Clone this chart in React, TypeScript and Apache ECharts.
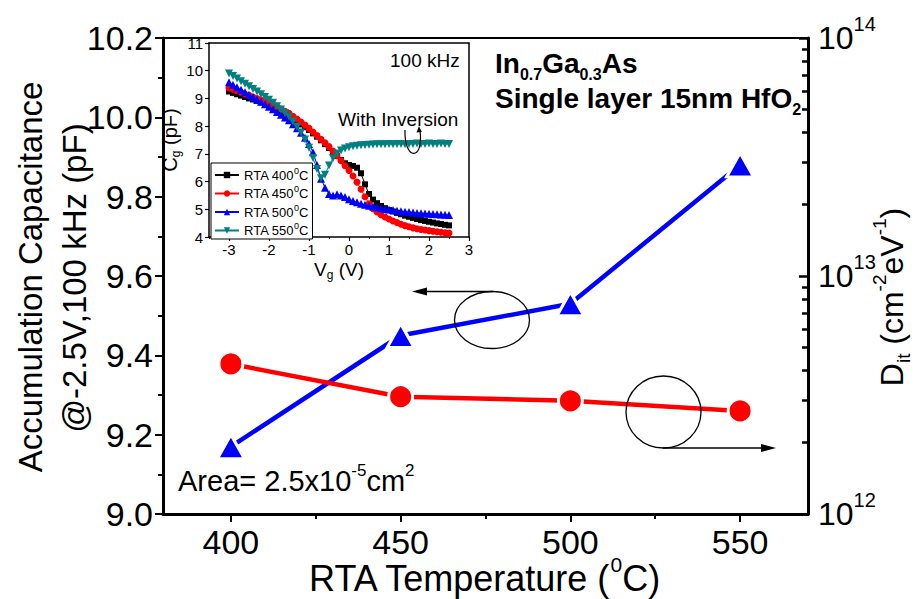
import React, { useEffect, useRef } from "react";
import * as echarts from "echarts";

const FONT = '"Liberation Sans", Arial, Helvetica, sans-serif';

// ---------- main chart data ----------
const rtaTemps = [400, 450, 500, 550];
const accCapacitance = [9.17, 9.45, 9.53, 9.88]; // pF, left axis
const ditValues = [4.27e12, 3.11e12, 2.99e12, 2.71e12]; // cm^-2 eV^-1, right (log) axis
const tempTickValues = [400, 450, 500, 550];
const tempMinorTickValues = [425, 475, 525];
const ditDecades = [12, 13, 14];
const ditMinorMantissas = [2, 3, 4, 5, 6, 7, 8, 9];

// ---------- inset data (C-V curves, 100 kHz) ----------
const vg = [
  -3.0, -2.9, -2.8, -2.7, -2.6, -2.5, -2.4, -2.3, -2.2, -2.1,
  -2.0, -1.9, -1.8, -1.7, -1.6, -1.5, -1.4, -1.3, -1.2, -1.1,
  -1.0, -0.9, -0.8, -0.7, -0.6, -0.5, -0.4, -0.3, -0.2, -0.1,
  0.0, 0.1, 0.2, 0.3, 0.4, 0.5, 0.6, 0.7, 0.8, 0.9,
  1.0, 1.1, 1.2, 1.3, 1.4, 1.5, 1.6, 1.7, 1.8, 1.9,
  2.0, 2.1, 2.2, 2.3, 2.4, 2.5,
];
const cg400 = [
  9.25, 9.2, 9.15, 9.1, 9.05, 9.0, 8.96, 8.91, 8.86, 8.8,
  8.74, 8.67, 8.6, 8.52, 8.44, 8.35, 8.26, 8.16, 8.06, 7.96,
  7.86, 7.74, 7.62, 7.49, 7.35, 7.21, 7.06, 6.92, 6.78, 6.66,
  6.6, 6.56, 6.5, 6.3, 5.9, 5.55, 5.35, 5.22, 5.12, 5.04,
  4.97, 4.92, 4.87, 4.82, 4.77, 4.73, 4.69, 4.65, 4.61, 4.58,
  4.55, 4.52, 4.49, 4.47, 4.44, 4.42,
];
const cg450 = [
  9.38, 9.33, 9.28, 9.22, 9.16, 9.11, 9.05, 9.0, 8.94, 8.88,
  8.83, 8.76, 8.69, 8.62, 8.54, 8.46, 8.36, 8.26, 8.15, 8.04,
  7.92, 7.79, 7.66, 7.53, 7.4, 7.26, 7.1, 6.93, 6.75, 6.57,
  6.4, 6.2, 5.98, 5.72, 5.45, 5.2, 5.02, 4.9, 4.8, 4.72,
  4.65, 4.58, 4.52, 4.46, 4.41, 4.37, 4.33, 4.3, 4.27, 4.25,
  4.23, 4.21, 4.19, 4.17, 4.15, 4.14,
];
const cg500 = [
  9.58, 9.49, 9.4, 9.31, 9.22, 9.13, 9.05, 8.96, 8.88, 8.79,
  8.7, 8.61, 8.51, 8.41, 8.31, 8.21, 8.07, 7.92, 7.76, 7.58,
  7.36, 7.06, 6.6, 6.1, 5.78, 5.55, 5.5, 5.54, 5.5, 5.44,
  5.36, 5.3, 5.25, 5.2, 5.16, 5.13, 5.1, 5.07, 5.04, 5.01,
  4.99, 4.97, 4.95, 4.93, 4.91, 4.9, 4.88, 4.87, 4.86, 4.85,
  4.84, 4.83, 4.82, 4.81, 4.8, 4.79,
];
const cg550 = [
  9.9, 9.81, 9.72, 9.62, 9.53, 9.44, 9.34, 9.25, 9.15, 9.05,
  8.95, 8.84, 8.72, 8.6, 8.47, 8.34, 8.17, 7.98, 7.77, 7.52,
  7.22, 6.85, 6.45, 6.12, 6.25, 6.58, 6.84, 7.01, 7.12, 7.19,
  7.24, 7.27, 7.29, 7.31, 7.32, 7.33, 7.34, 7.35, 7.35, 7.35,
  7.36, 7.35, 7.36, 7.36, 7.35, 7.36, 7.36, 7.37, 7.36, 7.36,
  7.37, 7.36, 7.36, 7.37, 7.36, 7.36,
];
const insetNames = ["RTA 400", "RTA 450", "RTA 500", "RTA 550"];
const insetColors = ["#000000", "#ff0000", "#0000ff", "#008080"];
const vgTickValues = [-3, -2, -1, 0, 1, 2, 3];
const vgMinorTickValues = [-3.5, -2.5, -1.5, -0.5, 0.5, 1.5, 2.5];

function buildOption(): any {
  const black = "#000";
  const lineBase = (w: number) => ({ lineStyle: { color: black, width: w } });
  const ditMinorTicks: number[] = [];
  ditDecades.slice(0, -1).forEach((d) =>
    ditMinorMantissas.forEach((m) => ditMinorTicks.push(d + Math.log10(m)))
  );
  const insetData = [cg400, cg450, cg500, cg550];
  const insetSymbols = ["rect", "circle", "triangle", "triangle"];
  const insetSizes = [6, 7, 8, 8];

  const rt = (size: number, extra: any = {}) => ({
    fontSize: size,
    fontFamily: FONT,
    fill: black,
    color: black,
    ...extra,
  });

  return {
    animation: false,
    backgroundColor: "#fff",
    grid: [
      { left: 163, top: 38, width: 645, height: 476 },
      {
        left: 209,
        top: 43,
        width: 260,
        height: 194,
        show: true,
        backgroundColor: "#fff",
        borderWidth: 0,
      },
    ],
    xAxis: [
      {
        gridIndex: 0,
        type: "value",
        min: 380,
        max: 570,
        position: "bottom",
        axisLine: { onZero: false, ...lineBase(3) },
        axisTick: { customValues: tempTickValues, length: 8, ...lineBase(2) },
        axisLabel: {
          customValues: tempTickValues,
          fontSize: 34,
          fontFamily: FONT,
          color: black,
          margin: 11,
        },
        splitLine: { show: false },
      },
      {
        gridIndex: 0,
        type: "value",
        min: 380,
        max: 570,
        position: "bottom",
        axisLine: { show: false, onZero: false },
        axisTick: { customValues: tempMinorTickValues, length: 5, ...lineBase(2) },
        axisLabel: { show: false },
        splitLine: { show: false },
      },
      {
        gridIndex: 0,
        type: "value",
        min: 380,
        max: 570,
        position: "top",
        axisLine: { onZero: false, ...lineBase(2) },
        axisTick: { show: false },
        axisLabel: { show: false },
        splitLine: { show: false },
      },
      {
        gridIndex: 1,
        type: "value",
        min: -3.5,
        max: 3,
        position: "bottom",
        axisLine: { onZero: false, ...lineBase(1.5) },
        axisTick: { customValues: vgTickValues, length: 4, ...lineBase(1.2) },
        axisLabel: {
          customValues: vgTickValues,
          fontSize: 15,
          fontFamily: FONT,
          color: black,
          margin: 5,
        },
        splitLine: { show: false },
        name: "{a|V}{sub|g}{a| (V)}",
        nameLocation: "middle",
        nameGap: 20,
        nameTextStyle: {
          fontSize: 19,
          fontFamily: FONT,
          color: black,
          rich: {
            a: rt(19),
            sub: rt(12, { padding: [12, 0, 0, 0] }),
          },
        },
      },
      {
        gridIndex: 1,
        type: "value",
        min: -3.5,
        max: 3,
        position: "bottom",
        axisLine: { show: false, onZero: false },
        axisTick: { customValues: vgMinorTickValues, length: 2, ...lineBase(1) },
        axisLabel: { show: false },
        splitLine: { show: false },
      },
      {
        gridIndex: 1,
        type: "value",
        min: -3.5,
        max: 3,
        position: "top",
        axisLine: { onZero: false, ...lineBase(1.5) },
        axisTick: { show: false },
        axisLabel: { show: false },
        splitLine: { show: false },
      },
    ],
    yAxis: [
      {
        gridIndex: 0,
        type: "value",
        min: 9.0,
        max: 10.2,
        interval: 0.2,
        position: "left",
        axisLine: { onZero: false, ...lineBase(3) },
        axisTick: { length: 8, ...lineBase(2) },
        minorTick: { show: true, splitNumber: 2, length: 5, ...lineBase(2) },
        axisLabel: {
          fontSize: 34,
          fontFamily: FONT,
          color: black,
          margin: 10,
          formatter: (v: number) => v.toFixed(1),
        },
        splitLine: { show: false },
      },
      {
        gridIndex: 0,
        type: "value",
        min: 12,
        max: 14,
        interval: 1,
        position: "right",
        axisLine: { onZero: false, ...lineBase(3) },
        axisTick: { inside: true, length: 9, ...lineBase(2.5) },
        axisLabel: {
          margin: 10,
          formatter: (v: number) => `{b|10}{s|${Math.round(v)}}`,
          rich: {
            b: rt(32),
            s: rt(20, { padding: [0, 0, 28, 0] }),
          },
        },
        splitLine: { show: false },
      },
      {
        gridIndex: 0,
        type: "value",
        min: 12,
        max: 14,
        position: "right",
        axisLine: { show: false, onZero: false },
        axisTick: { inside: true, customValues: ditMinorTicks, length: 6, ...lineBase(2.5) },
        axisLabel: { show: false },
        splitLine: { show: false },
      },
      {
        gridIndex: 1,
        type: "value",
        min: 4,
        max: 11,
        interval: 1,
        position: "left",
        axisLine: { onZero: false, ...lineBase(1.5) },
        axisTick: { length: 4, ...lineBase(1.2) },
        axisLabel: { fontSize: 15, fontFamily: FONT, color: black, margin: 6 },
        splitLine: { show: false },
        name: "{a|C}{sub|g}{a| (pF)}",
        nameLocation: "middle",
        nameGap: 22,
        nameTextStyle: {
          fontSize: 20,
          fontFamily: FONT,
          color: black,
          rich: {
            a: rt(20),
            sub: rt(12, { padding: [12, 0, 0, 0] }),
          },
        },
      },
      {
        gridIndex: 1,
        type: "value",
        min: 4,
        max: 11,
        position: "right",
        axisLine: { onZero: false, ...lineBase(1.5) },
        axisTick: { show: false },
        axisLabel: { show: false },
        splitLine: { show: false },
      },
    ],
    legend: {
      data: insetNames,
      orient: "vertical",
      left: 211,
      top: 163,
      itemWidth: 24,
      itemHeight: 8,
      itemGap: 3,
      padding: [3, 4, 2, 3],
      borderColor: black,
      borderWidth: 1,
      backgroundColor: "#fff",
      formatter: (n: string) => `{a|${n}}{s|0}{a|C}`,
      textStyle: {
        fontSize: 13,
        fontFamily: FONT,
        color: black,
        rich: {
          a: rt(13),
          s: rt(9, { padding: [0, 0, 9, 0] }),
        },
      },
    },
    series: [
      {
        type: "line",
        name: "Accumulation capacitance",
        xAxisIndex: 0,
        yAxisIndex: 0,
        data: rtaTemps.map((t, i) => [t, accCapacitance[i]]),
        symbol: "triangle",
        symbolSize: [27, 24],
        lineStyle: { color: "#0000ff", width: 4.5 },
        itemStyle: { color: "#0000ff", borderColor: "#fff", borderWidth: 3 },
        z: 3,
      },
      {
        type: "line",
        name: "Dit",
        xAxisIndex: 0,
        yAxisIndex: 1,
        data: rtaTemps.map((t, i) => [t, Math.log10(ditValues[i])]),
        symbol: "circle",
        symbolSize: 24,
        lineStyle: { color: "#ff0000", width: 4.5 },
        itemStyle: { color: "#ff0000", borderColor: "#fff", borderWidth: 3 },
        z: 3,
      },
      ...insetNames.map((n, k) => ({
        type: "line",
        name: n,
        xAxisIndex: 3,
        yAxisIndex: 3,
        data: vg.map((v, i) => [v, insetData[k][i]]),
        symbol: insetSymbols[k],
        symbolSize: insetSizes[k],
        symbolRotate: k === 3 ? 180 : 0,
        lineStyle: { color: insetColors[k], width: 1 },
        itemStyle: { color: insetColors[k] },
        z: 4,
      })),
    ],
    graphic: [
      // axis titles
      {
        type: "text",
        x: 30,
        y: 277,
        rotation: Math.PI / 2,
        style: { ...rt(33), text: "Accumulation Capacitance", align: "center", verticalAlign: "middle" },
      },
      {
        type: "text",
        x: 74,
        y: 278,
        rotation: Math.PI / 2,
        style: { ...rt(33), text: "@-2.5V,100 kHz (pF)", align: "center", verticalAlign: "middle" },
      },
      {
        type: "text",
        x: 892,
        y: 297,
        rotation: Math.PI / 2,
        style: {
          ...rt(32),
          text: "{a|D}{sub|it}{a| (cm}{sup|-2}{a|eV}{sup|-1}{a|)}",
          align: "center",
          verticalAlign: "middle",
          rich: {
            a: rt(32),
            sub: rt(19, { padding: [22, 0, 0, 0] }),
            sup: rt(19, { padding: [0, 0, 26, 0] }),
          },
        },
      },
      {
        type: "text",
        x: 484,
        y: 578,
        style: {
          ...rt(36),
          text: "{a|RTA Temperature (}{sup|0}{a|C)}",
          align: "center",
          verticalAlign: "middle",
          rich: { a: rt(36), sup: rt(21, { padding: [0, 0, 28, 0] }) },
        },
      },
      // annotations
      {
        type: "text",
        x: 178,
        y: 481,
        style: {
          ...rt(29),
          text: "{a|Area= 2.5x10}{sup|-5}{a|cm}{sup|2}",
          align: "left",
          verticalAlign: "middle",
          rich: { a: rt(29), sup: rt(17, { padding: [0, 0, 22, 0] }) },
        },
      },
      {
        type: "text",
        x: 495,
        y: 63,
        style: {
          ...rt(28, { fontWeight: "bold" }),
          text: "{b|In}{sub|0.7}{b|Ga}{sub|0.3}{b|As}",
          align: "left",
          verticalAlign: "middle",
          rich: {
            b: rt(28, { fontWeight: "bold" }),
            sub: rt(16, { fontWeight: "bold", padding: [22, 0, 0, 0] }),
          },
        },
      },
      {
        type: "text",
        x: 495,
        y: 98,
        style: {
          ...rt(28, { fontWeight: "bold" }),
          text: "{b|Single layer 15nm HfO}{sub|2}",
          align: "left",
          verticalAlign: "middle",
          rich: {
            b: rt(28, { fontWeight: "bold" }),
            sub: rt(16, { fontWeight: "bold", padding: [22, 0, 0, 0] }),
          },
        },
      },
      {
        type: "text",
        x: 390,
        y: 60,
        z: 10,
        style: { ...rt(19), text: "100 kHz", align: "left", verticalAlign: "middle" },
      },
      {
        type: "text",
        x: 338,
        y: 119,
        z: 10,
        style: { ...rt(19), text: "With Inversion", align: "left", verticalAlign: "middle" },
      },
      {
        type: "bezierCurve",
        z: 10,
        shape: { x1: 405, y1: 130, cpx1: 404, cpy1: 161, cpx2: 424, cpy2: 161, x2: 420, y2: 131 },
        style: { stroke: black, lineWidth: 1.2, fill: null },
      },
      {
        type: "polygon",
        z: 10,
        shape: { points: [[419, 126], [416.5, 132.5], [421.8, 132]] },
        style: { fill: black },
      },
      {
        type: "ellipse",
        z: 10,
        shape: { cx: 492, cy: 320, rx: 37.5, ry: 28.5 },
        style: { stroke: black, lineWidth: 1.3, fill: null },
      },
      {
        type: "line",
        z: 10,
        shape: { x1: 493, y1: 291.5, x2: 420, y2: 291.5 },
        style: { stroke: black, lineWidth: 1.3 },
      },
      {
        type: "polygon",
        z: 10,
        shape: { points: [[412, 291.5], [427, 287.5], [427, 295.5]] },
        style: { fill: black },
      },
      {
        type: "ellipse",
        z: 10,
        shape: { cx: 663.5, cy: 412, rx: 37.5, ry: 36 },
        style: { stroke: black, lineWidth: 1.3, fill: null },
      },
      {
        type: "line",
        z: 10,
        shape: { x1: 663, y1: 448, x2: 768, y2: 448 },
        style: { stroke: black, lineWidth: 1.3 },
      },
      {
        type: "polygon",
        z: 10,
        shape: { points: [[776, 448], [761, 444], [761, 452]] },
        style: { fill: black },
      },
    ],
  };
}

export default function App() {
  const ref = useRef<HTMLDivElement>(null);
  useEffect(() => {
    if (!ref.current) return;
    const chart = echarts.init(ref.current, null, { renderer: "svg" });
    chart.setOption(buildOption());
    return () => chart.dispose();
  }, []);
  return (
    <div
      ref={ref}
      style={{ position: "absolute", left: 0, top: 0, width: 922, height: 599 }}
    />
  );
}
